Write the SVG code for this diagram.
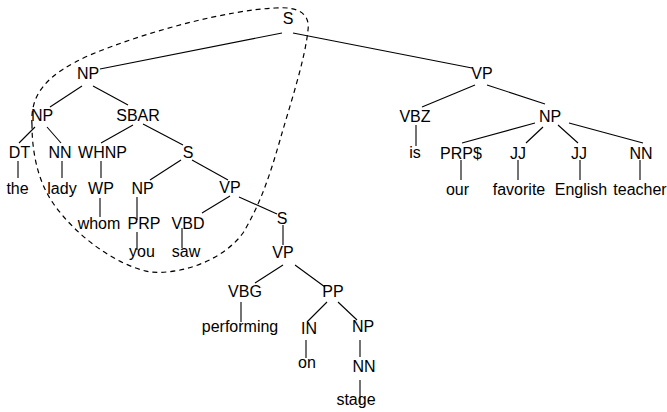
<svg xmlns="http://www.w3.org/2000/svg" width="667" height="412" viewBox="0 0 667 412">
<style>
text{font-family:"Liberation Sans",Arial,sans-serif;font-size:16px;fill:#000;text-anchor:middle}
.e line{stroke:#000;stroke-width:1.1}
.loop{fill:none;stroke:#000;stroke-width:1.2;stroke-dasharray:5,4}
</style>
<rect width="667" height="412" fill="#fff"/>
<g id="connectors" class="e">
<line x1="282" y1="33" x2="100" y2="69"/>
<line x1="293" y1="33" x2="472" y2="68"/>
<line x1="475" y1="85" x2="422" y2="107"/>
<line x1="487" y1="85" x2="545" y2="104"/>
<line x1="535" y1="123" x2="462" y2="143"/>
<line x1="543" y1="127" x2="526" y2="143"/>
<line x1="558" y1="125" x2="578" y2="143"/>
<line x1="569" y1="123" x2="643" y2="143"/>
<line x1="416" y1="125" x2="416" y2="146"/>
<line x1="461" y1="160" x2="461" y2="180"/>
<line x1="518" y1="160" x2="518" y2="180"/>
<line x1="580" y1="160" x2="580" y2="180"/>
<line x1="640" y1="160" x2="640" y2="180"/>
<line x1="82" y1="86" x2="50" y2="107"/>
<line x1="93" y1="86" x2="128" y2="105"/>
<line x1="35" y1="127" x2="19" y2="143"/>
<line x1="47" y1="127" x2="61" y2="143"/>
<line x1="133" y1="125" x2="101" y2="143"/>
<line x1="143" y1="124" x2="183" y2="145"/>
<line x1="18" y1="161" x2="18" y2="178"/>
<line x1="62" y1="161" x2="62" y2="178"/>
<line x1="101" y1="161" x2="101" y2="178"/>
<line x1="181" y1="160" x2="150" y2="180"/>
<line x1="192" y1="160" x2="228" y2="180"/>
<line x1="100" y1="198" x2="100" y2="217"/>
<line x1="137" y1="197" x2="137" y2="220"/>
<line x1="230" y1="196" x2="202" y2="213"/>
<line x1="239" y1="197" x2="277" y2="214"/>
<line x1="137" y1="232" x2="137" y2="250"/>
<line x1="182" y1="228" x2="182" y2="248"/>
<line x1="283" y1="225" x2="283" y2="245"/>
<line x1="283" y1="265" x2="255" y2="283"/>
<line x1="295" y1="265" x2="325" y2="287"/>
<line x1="241" y1="302" x2="241" y2="322"/>
<line x1="327" y1="302" x2="307" y2="322"/>
<line x1="338" y1="302" x2="357" y2="320"/>
<line x1="306" y1="340" x2="306" y2="358"/>
<line x1="360" y1="340" x2="360" y2="357"/>
<line x1="360" y1="380" x2="360" y2="403"/>
<path class="loop" d="M32 125 C30 95 45 75 90 55 C150 30 230 10 275 8 C300 6 310 15 308 30 C305 60 290 105 280 140 C270 175 260 205 243 233 C225 258 185 275 150 272 C115 265 75 235 53 203 C37 180 32 150 32 125 Z"/>
</g>
<g id="n-S"><text x="288" y="24">S</text></g>
<g id="n-NP1"><text x="88" y="79">NP</text></g>
<g id="n-VP1"><text x="482" y="79">VP</text></g>
<g id="n-NP2"><text x="42" y="121">NP</text></g>
<g id="n-SBAR"><text x="138" y="121">SBAR</text></g>
<g id="n-VBZ"><text x="415" y="121.5">VBZ</text></g>
<g id="n-NP3"><text x="550" y="121.5">NP</text></g>
<g id="n-DT"><text x="19.5" y="158">DT</text></g>
<g id="n-NN1"><text x="60" y="158">NN</text></g>
<g id="n-WHNP"><text x="102.5" y="158">WHNP</text></g>
<g id="n-S1"><text x="188" y="158">S</text></g>
<g id="n-is"><text x="415" y="158">is</text></g>
<g id="n-PRPS"><text x="461" y="159">PRP$</text></g>
<g id="n-JJ1"><text x="518" y="159">JJ</text></g>
<g id="n-JJ2"><text x="579" y="159">JJ</text></g>
<g id="n-NN2"><text x="641" y="159">NN</text></g>
<g id="n-the"><text x="17.5" y="194">the</text></g>
<g id="n-lady"><text x="62" y="194">lady</text></g>
<g id="n-WP"><text x="101" y="194">WP</text></g>
<g id="n-NP4"><text x="142.5" y="194">NP</text></g>
<g id="n-VP2"><text x="230" y="193">VP</text></g>
<g id="n-our"><text x="457.5" y="195">our</text></g>
<g id="n-favorite"><text x="519" y="195">favorite</text></g>
<g id="n-English"><text x="581" y="195">English</text></g>
<g id="n-teacher"><text x="640" y="195">teacher</text></g>
<g id="n-S2"><text x="282" y="224">S</text></g>
<g id="n-whom"><text x="99" y="229">whom</text></g>
<g id="n-PRP"><text x="144" y="229">PRP</text></g>
<g id="n-VBD"><text x="188" y="229">VBD</text></g>
<g id="n-you"><text x="142" y="257">you</text></g>
<g id="n-saw"><text x="186" y="257">saw</text></g>
<g id="n-VP3"><text x="283" y="258">VP</text></g>
<g id="n-VBG"><text x="245" y="297">VBG</text></g>
<g id="n-PP"><text x="333" y="297">PP</text></g>
<g id="n-performing"><text x="240" y="332">performing</text></g>
<g id="n-IN"><text x="309" y="334">IN</text></g>
<g id="n-NP5"><text x="363" y="332">NP</text></g>
<g id="n-on"><text x="307" y="368">on</text></g>
<g id="n-NN3"><text x="364" y="372">NN</text></g>
<g id="n-stage"><text x="356" y="405">stage</text></g>
</svg>
